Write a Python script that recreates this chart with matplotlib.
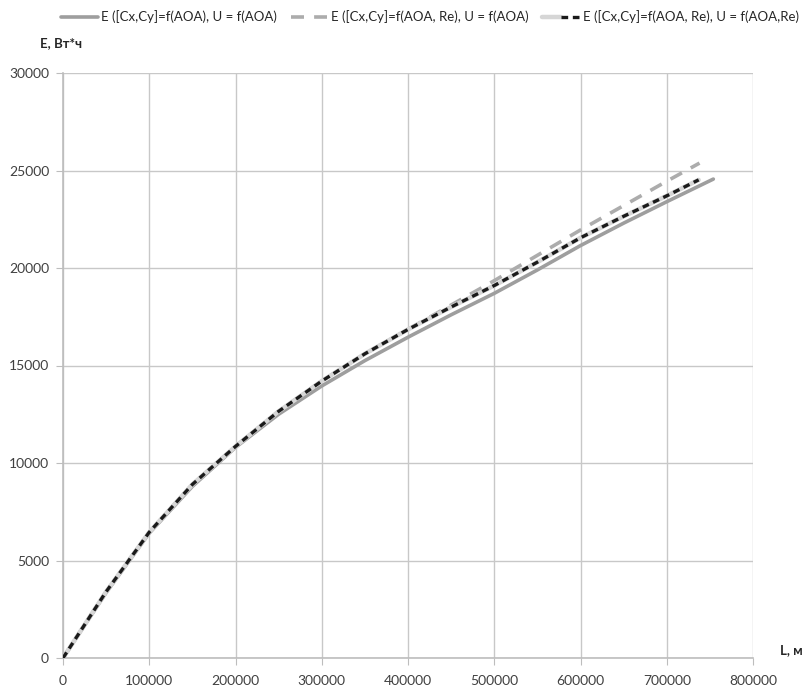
import matplotlib.pyplot as plt
from matplotlib.legend_handler import HandlerTuple

plt.rcParams['font.family'] = ['Lato', 'DejaVu Sans']

# E ([Cx,Cy]=f(AOA), U = f(AOA)
L1 = [0, 50000, 100000, 150000, 200000, 250000, 300000, 350000, 400000,
      450000, 500000, 550000, 600000, 650000, 700000, 754000]
E1 = [0, 3350, 6400, 8800, 10800, 12500, 13950, 15250, 16450,
      17600, 18700, 19900, 21150, 22300, 23400, 24560]

# E ([Cx,Cy]=f(AOA, Re), U = f(AOA)
L2 = [0, 50000, 100000, 150000, 200000, 250000, 300000, 350000, 400000,
      450000, 500000, 550000, 600000, 650000, 700000, 738000]
E2 = [0, 3400, 6450, 8900, 10850, 12650, 14200, 15600, 16850,
      18100, 19350, 20650, 21950, 23200, 24450, 25380]

# E ([Cx,Cy]=f(AOA, Re), U = f(AOA,Re)
L3 = [0, 50000, 100000, 150000, 200000, 250000, 300000, 350000, 400000,
      450000, 500000, 550000, 600000, 650000, 700000, 737000]
E3 = [0, 3400, 6450, 8900, 10850, 12650, 14200, 15600, 16850,
      18000, 19100, 20300, 21550, 22650, 23700, 24520]

labels = ['E ([Cx,Cy]=f(AOA), U = f(AOA)',
          'E ([Cx,Cy]=f(AOA, Re), U = f(AOA)',
          'E ([Cx,Cy]=f(AOA, Re), U = f(AOA,Re)']

fig = plt.figure(figsize=(8.08, 6.86), dpi=100)
ax = fig.add_axes([63 / 808, 28 / 686, 690 / 808, 585 / 686])

l1, = ax.plot(L1, E1, color='#9e9e9e', lw=2.6, solid_capstyle='round', zorder=3)
l2, = ax.plot(L2, E2, color='#acacac', lw=2.6, dashes=(3.6, 2.8), zorder=3)
l3b, = ax.plot(L3, E3, color='#d6d6d6', lw=3.2, solid_capstyle='round', zorder=4)
l3, = ax.plot(L3, E3, color='#1a1a1a', lw=2.4, dashes=(2.0, 1.4), zorder=5)

ax.set_xlim(0, 800000)
ax.set_ylim(0, 30000)
ax.set_xticks(range(0, 800001, 100000))
ax.set_yticks(range(0, 30001, 5000))
ax.grid(True, color='#c8c8c8', lw=1)
ax.set_axisbelow(True)

for s in ['top', 'right']:
    ax.spines[s].set_visible(False)
for s in ['left', 'bottom']:
    ax.spines[s].set_color('#bdbdbd')
    ax.spines[s].set_linewidth(1.2)

ax.tick_params(axis='both', colors='#bdbdbd', labelcolor='#404040',
               labelsize=10, length=5, direction='out')
ax.tick_params(axis='y', pad=5)
ax.tick_params(axis='x', pad=7)

fig.text(40 / 808, 1 - 43 / 686, 'E, Вт*ч', fontsize=9.5, fontweight='bold',
         color='#262626', va='center')
fig.text(780 / 808, 1 - 650 / 686, 'L, м', fontsize=9.5, fontweight='bold',
         color='#262626', va='center')

fig.legend([l1, l2, (l3b, l3)], labels, loc='center', ncol=3,
           bbox_to_anchor=(0.532, 1 - 17 / 686), frameon=False,
           fontsize=9.5, handlelength=2.8, handletextpad=0.3,
           columnspacing=1.0, labelcolor='#262626',
           handler_map={tuple: HandlerTuple(ndivide=None, pad=0)})

fig.savefig('out.png', dpi=100)
